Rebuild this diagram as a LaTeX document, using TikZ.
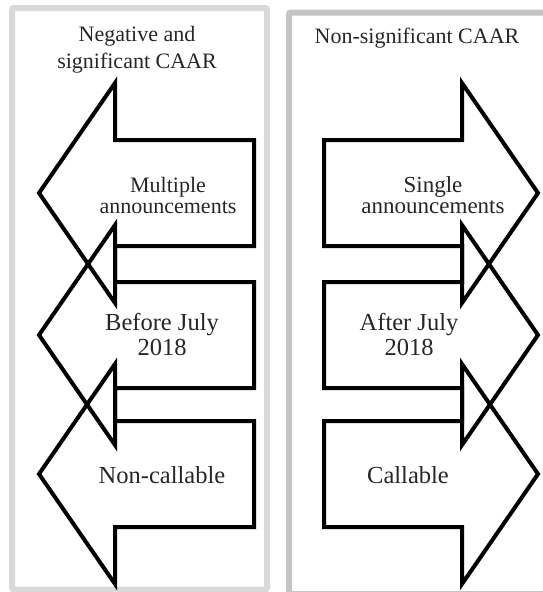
\documentclass[tikz,border=0pt]{standalone}
\usepackage{fontspec}
\setmainfont{Liberation Serif}
\usepackage{xcolor}

\begin{document}
\begin{tikzpicture}[
    x=1pt, y=-1pt,
    panelL/.style={draw=black!15, line width=6pt, rounded corners=2pt},
    panelR/.style={draw=black!23, line width=6pt, rounded corners=2pt},
    barr/.style={draw=black, line width=4pt, line join=miter},
    ttl/.style={font=\fontsize{22}{27}\selectfont, align=center, text=black!85, inner sep=0pt},
    lbl/.style={font=\fontsize{24.5}{25}\selectfont, align=center, text=black!85, inner sep=0pt},
    lblsm/.style={font=\fontsize{22}{21}\selectfont, align=center, text=black!85, inner sep=0pt}
]
    \useasboundingbox (0,0) rectangle (543,592);
    \clip (0,0) rectangle (543,592);

    \draw[panelL] (12,8) rectangle (267,589.5);
    \draw[panelR] (289,12.5) rectangle (570,594);

    \draw[barr] (39,193) -- (115,83) -- (115,140) -- (254,140) -- (254,246) -- (115,246) -- (115,303) -- cycle;
    \draw[barr] (39,335) -- (115,225) -- (115,282) -- (254,282) -- (254,388) -- (115,388) -- (115,445) -- cycle;
    \draw[barr] (39,474) -- (115,364) -- (115,421) -- (254,421) -- (254,527) -- (115,527) -- (115,584) -- cycle;

    \draw[barr] (538,193) -- (462,83) -- (462,140) -- (324,140) -- (324,246) -- (462,246) -- (462,303) -- cycle;
    \draw[barr] (538,335) -- (462,225) -- (462,282) -- (324,282) -- (324,388) -- (462,388) -- (462,445) -- cycle;
    \draw[barr] (538,474) -- (462,364) -- (462,421) -- (324,421) -- (324,527) -- (462,527) -- (462,584) -- cycle;

    \node[ttl] (negsig) at (137,50) {Negative and\\significant CAAR};
    \node[ttl] (nonsig) at (417,38) {Non-significant CAAR};

    \node[lblsm] (multi) at (168,195) {Multiple\\announcements};
    \node[lbl] (before) at (162,334) {Before July\\2018};
    \node[lbl] (noncall) at (162,475) {Non-callable};

    \node[lblsm, font=\fontsize{23}{21.5}\selectfont] (single) at (433,195) {Single\\announcements};
    \node[lbl] (after) at (409,334) {After July\\2018};
    \node[lbl] (call) at (408,475) {Callable};
\end{tikzpicture}
\end{document}
